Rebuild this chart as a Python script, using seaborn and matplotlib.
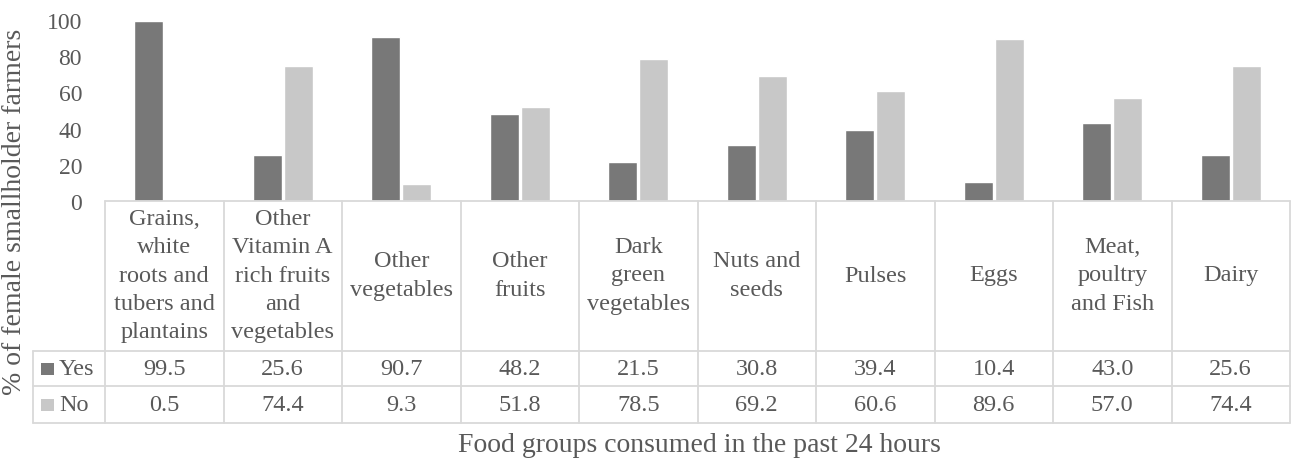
# plot.py

import seaborn as sns
import matplotlib.pyplot as plt
import pandas as pd
from matplotlib.patches import Rectangle

# data
groups = ['Grains,\nwhite\nroots and\ntubers and\nplantains',
          'Other\nVitamin A\nrich fruits\nand\nvegetables',
          'Other\nvegetables', 'Other\nfruits', 'Dark\ngreen\nvegetables',
          'Nuts and\nseeds', 'Pulses', 'Eggs', 'Meat,\npoultry\nand Fish', 'Dairy']
yes_pct = [99.5, 25.6, 90.7, 48.2, 21.5, 30.8, 39.4, 10.4, 43.0, 25.6]
no_pct = [0.5, 74.4, 9.3, 51.8, 78.5, 69.2, 60.6, 89.6, 57.0, 74.4]
series = ['Yes', 'No']

df = pd.DataFrame({
    'group': groups * 2,
    'pct': yes_pct + no_pct,
    'response': ['Yes'] * len(groups) + ['No'] * len(groups),
})

dark, light = '#787878', '#c8c8c8'
text_col = '#595959'
line_col = '#d9d9d9'

sns.set_style("white")
plt.rcParams['font.family'] = ['Liberation Serif', 'DejaVu Serif']

W, H = 1293, 460
fig = plt.figure(figsize=(W / 100, H / 100), dpi=100)

# axes box in pixels of the reference
left, right, top, base = 105, 1290, 21, 202
ax = fig.add_axes([left / W, 1 - base / H, (right - left) / W, (base - top) / H])

sns.barplot(data=df, x='group', y='pct', hue='response', hue_order=series,
            palette=[dark, light], width=0.52, gap=0.06, ax=ax, legend=False,
            saturation=1)

ax.set_xlim(-0.5, len(groups) - 0.5)
ax.set_ylim(0, 100)
ax.set_yticks(range(0, 101, 20))
ax.tick_params(axis='y', length=0, pad=16.5, labelsize=17, labelcolor=text_col)
ax.set_xticks([])
ax.set_xlabel('')
ax.set_ylabel('')
for s in ax.spines.values():
    s.set_visible(False)

# data table under the plot
tr = ax.get_xaxis_transform()
def ya(py):
    return (base - py) / (base - top)

col_w = (right - left) / len(groups)
leg_left = (33 - left) / col_w - 0.5
row_y = [ya(352), ya(387), ya(424)]
n = len(groups)

ax.plot([-0.5, n - 0.5], [0, 0], transform=tr, color=line_col, lw=1.3, clip_on=False)
for y in row_y:
    ax.plot([leg_left, n - 0.5], [y, y], transform=tr, color=line_col, lw=1.3, clip_on=False)
for i in range(n + 1):
    ax.plot([i - 0.5, i - 0.5], [0, row_y[-1]], transform=tr, color=line_col, lw=1.3, clip_on=False)
ax.plot([leg_left, leg_left], [row_y[0], row_y[-1]], transform=tr, color=line_col, lw=1.3, clip_on=False)

head_mid = ya(276)
yes_mid = ya(369.5)
no_mid = ya(405.5)
for i, g in enumerate(groups):
    ax.text(i, head_mid, g, transform=tr, ha='center', va='center',
            fontsize=17.5, color=text_col, linespacing=1.46)
    ax.text(i, yes_mid, f'{yes_pct[i]:.1f}', transform=tr, ha='center', va='center',
            fontsize=17.5, color=text_col)
    ax.text(i, no_mid, f'{no_pct[i]:.1f}', transform=tr, ha='center', va='center',
            fontsize=17.5, color=text_col)

# legend keys in the table
for name, col, mid in [('Yes', dark, 369.5), ('No', light, 405.5)]:
    fig.add_artist(Rectangle((41 / W, 1 - (mid + 6) / H), 13 / W, 12 / H,
                             transform=fig.transFigure, color=col, lw=0))
    fig.text(59 / W, 1 - mid / H, name, ha='left', va='center',
             fontsize=17.5, color=text_col)

fig.text(15 / W, 1 - 212 / H, '% of female smallholder farmers', rotation=90,
         ha='center', va='center', fontsize=20, color=text_col)
fig.text(699 / W, 1 - 446 / H, 'Food groups consumed in the past 24 hours',
         ha='center', va='center', fontsize=20, color=text_col)

plt.savefig('out.png', dpi=100)
